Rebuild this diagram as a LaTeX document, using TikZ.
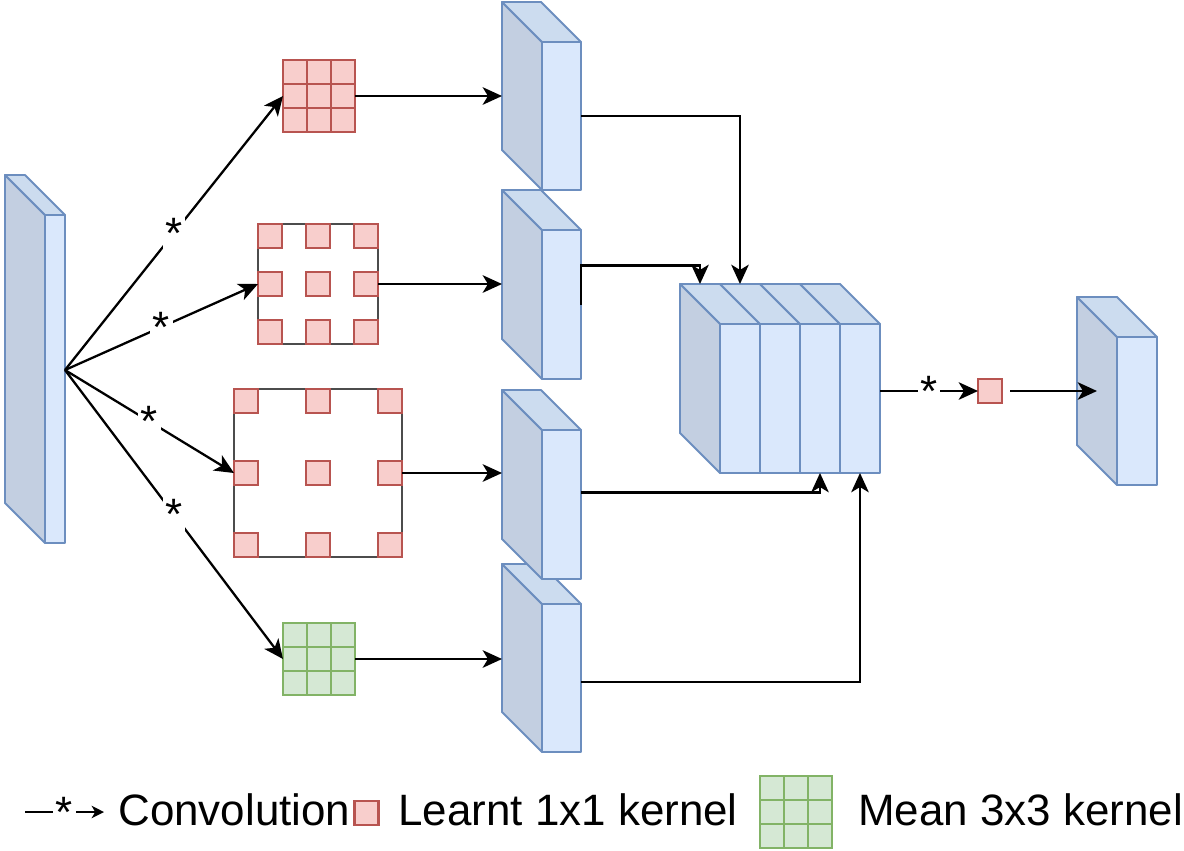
\documentclass[tikz,border=0pt]{standalone}
\usepackage{fontspec}
\setmainfont{Liberation Sans}
\usetikzlibrary{arrows.meta,calc}

\definecolor{blfill}{HTML}{DAE8FC}
\definecolor{bltop}{HTML}{CCDCEF}
\definecolor{blside}{HTML}{C3CFE1}
\definecolor{bldraw}{HTML}{6C8EBF}
\definecolor{rdfill}{HTML}{F8CECC}
\definecolor{rddraw}{HTML}{B85450}
\definecolor{grfill}{HTML}{D5E8D4}
\definecolor{grdraw}{HTML}{82B366}

\tikzset{
  face/.style={draw=bldraw, line width=1.1pt, line join=round},
  front/.style={face, fill=blfill, inner sep=0pt, outer sep=0pt},
  cell/.style={draw=rddraw, fill=rdfill, line width=1.2pt},
  mcell/.style={draw=grdraw, fill=grfill, line width=1.2pt},
  kbox/.style={draw=black!70, fill=white, line width=0.6pt, inner sep=0pt, outer sep=0pt},
  wire/.style={line width=1.3pt},
  conv/.style={fill=white, inner sep=1.5pt, font=\fontsize{25}{30}\selectfont},
  lbl/.style={anchor=base west, inner sep=0pt, font=\fontsize{25}{30}\selectfont},
}

% feature map: name, left, top, width, height of the front face (px)
\newcommand{\fmap}[5]{
  \node[front, anchor=north west, minimum width=#4*0.02cm, minimum height=#5*0.02cm] (#1) at (#2,#3) {};
  \coordinate (#1-b) at ($(#1.north west)+(-40,-40)$);
  \draw[face, fill=blside] (#1.north west) -- (#1-b) -- ++(0,#5) -- (#1.south west) -- cycle;
  \draw[face, fill=bltop] (#1.north west) -- (#1-b) -- ++(#4,0) -- (#1.north east) -- cycle;
}

% 3x3 kernel: name, left, top, gap between cells, cell style
\newcommand{\kgrid}[5]{
  \node[kbox, anchor=north west, minimum size={(72+2*#4)*0.02cm}] (#1) at (#2,#3) {};
  \foreach \i in {0,1,2}
    \foreach \j in {0,1,2}
      \draw[#5] ({#2+\i*(24+#4)},{#3+\j*(24+#4)}) rectangle ++(24,24);
}

\begin{document}
\begin{tikzpicture}[x=0.02cm, y=-0.02cm, >={Stealth[length=11pt,width=10pt,inset=3pt]}]
\useasboundingbox (0,0) rectangle (1184,850);

% input
\fmap{in}{45}{215}{20}{328}
\coordinate (src) at ($(in.east)+(0,-9)$);

% kernels
\kgrid{k1}{283}{60}{0}{cell}
\kgrid{k2}{258}{224}{24}{cell}
\kgrid{k3}{234}{389}{48}{cell}
\kgrid{k4}{283}{623}{0}{mcell}

\draw[wire,->] (src) -- node[conv] {*} (k1.west);
\draw[wire,->] (src) -- node[conv] {*} (k2.west);
\draw[wire,->] (src) -- node[conv] {*} (k3.west);
\draw[wire,->] (src) -- node[conv] {*} (k4.west);

% feature maps
\fmap{b4}{542}{604}{39}{148}
\fmap{b3}{542}{430}{39}{149}
\fmap{b2}{542}{230}{39}{149}
\fmap{b1}{542}{42}{39}{148}

\draw[wire,->] (k1.east) -- (k1.east -| b1-b);
\draw[wire,->] (k2.east) -- (k2.east -| b2-b);
\draw[wire,->] (k3.east) -- (k3.east -| b3-b);
\draw[wire,->] (k4.east) -- (k4.east -| b4-b);

% concatenation
\foreach \i in {0,...,3} {
  \node[front, anchor=north west, minimum width=0.8cm, minimum height=2.98cm] (cat\i) at ({720+40*\i},324) {};
  \draw[face, fill=bltop] (cat\i.north west) -- ++(-40,-40) -- ++(40,0) -- (cat\i.north east) -- cycle;
  \coordinate (cat\i-t) at ($(cat\i.north)+(-40,-40)$);
}
\draw[face, fill=blside] (cat0.north west) -- ++(-40,-40) -- ++(0,149) -- (cat0.south west) -- cycle;

\draw[wire,->] (b1.east) -| (cat1-t);
\draw[wire,->] (b2.east) -- ++(0,-39) -| (cat0-t);
\draw[wire,->] ($(b3.east)+(0,-12)$) -| (cat2.south);
\draw[wire,->] ($(b4.east)+(0,4)$) -| (cat3.south);

% 1x1 conv and output
\node[cell, minimum size=0.48cm, inner sep=0pt, outer sep=0pt] (sq) at (990,391) {};
\fmap{out}{1117}{337}{40}{148}
\coordinate (out-m) at ($(out.north west)+(-20,0)$);
\draw[wire,->] (sq.west -| cat3.east) -- node[conv] {*} (sq.west);
\draw[wire,->,shorten <=0.16cm] (sq.east) -- (sq.east -| out-m);

% legend
\coordinate (lg0) at (25,812);
\coordinate (lg1) at (104,812);
\draw[wire,-{Stealth[length=7pt,width=7pt,inset=2pt]}] (lg0) -- node[conv] {*} (lg1);
\node[lbl] (tconv) at (118,825) {Convolution};
\node[cell, minimum size=0.48cm, inner sep=0pt, outer sep=0pt] (lg2) at (366.5,813) {};
\node[lbl] (tlearn) at (398,825) {Learnt 1x1 kernel};
\kgrid{lg3}{760}{776}{0}{mcell}
\node[lbl] (tmean) at (858,825) {Mean 3x3 kernel};
\end{tikzpicture}
\end{document}
